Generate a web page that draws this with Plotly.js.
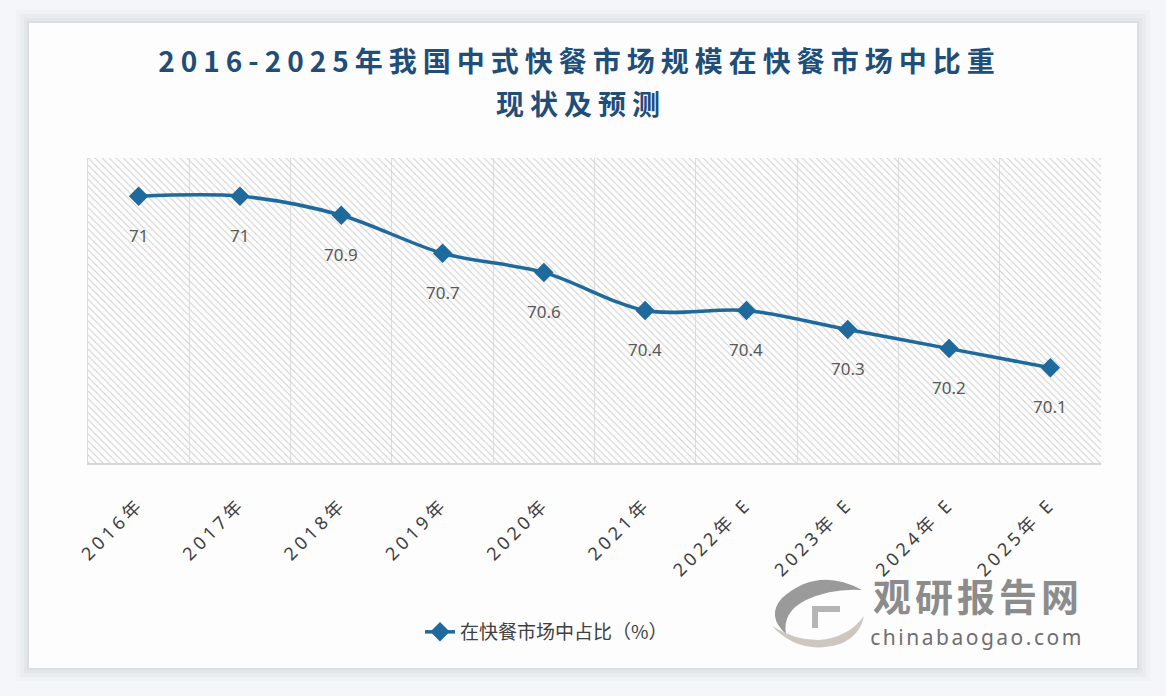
<!DOCTYPE html>
<html>
<head>
<meta charset="utf-8">
<script src="https://cdn.plot.ly/plotly-3.0.1.min.js"></script>
<style>
  html, body { margin: 0; padding: 0; background: #f5f6f9; }
  #chart { width: 1166px; height: 696px; }
  .gtitle, .titleline2 { letter-spacing: 6px; }
  .x2tick text { letter-spacing: 4px; }
  .wmcn { letter-spacing: 4px; }
  .wmen { letter-spacing: 2.5px; }
</style>
</head>
<body>
<div id="chart"></div>
<script>
// ---- data ----
const categories = ['2016年', '2017年', '2018年', '2019年', '2020年', '2021年', '2022年 E', '2023年 E', '2024年 E', '2025年 E'];
const shareValues = [71, 71, 70.9, 70.7, 70.6, 70.4, 70.4, 70.3, 70.2, 70.1];
const seriesName = '在快餐市场中占比（%）';
const titleLine1 = '2016-2025年我国中式快餐市场规模在快餐市场中比重';
const titleLine2 = '现状及预测';
const watermarkCn = '观研报告网';
const watermarkEn = 'chinabaogao.com';

// ---- geometry helpers (pixel -> paper) ----
const W = 1166, H = 696;
const M = { l: 88, r: 65, t: 158, b: 233 };
const PW = W - M.l - M.r, PH = H - M.t - M.b;
const X = px => (px - M.l) / PW;
const Y = py => (H - M.b - py) / PH;
function pathPx(cmds) {
  return cmds.map(c => {
    const op = c[0];
    const nums = c.slice(1);
    const out = [];
    for (let i = 0; i < nums.length; i += 2) out.push(X(nums[i]).toFixed(5) + ',' + Y(nums[i + 1]).toFixed(5));
    return op + ' ' + out.join(' ');
  }).join(' ') + ' Z';
}

const lineColor = '#1f6a9c';
const titleFont = { family: 'Noto Sans CJK SC', size: 28, weight: 'bold', color: '#1f4e79' };

const hatch = {
  type: 'bar', x: [0.5], y: [1], width: [1], xaxis: 'x', yaxis: 'y',
  marker: {
    color: 'rgba(0,0,0,0)',
    line: { width: 0 },
    pattern: { shape: '\\', fgcolor: '#cfcfcf', bgcolor: 'rgba(0,0,0,0)', size: 5, solidity: 0.2 }
  },
  showlegend: false, hoverinfo: 'skip'
};

const series = {
  type: 'scatter', mode: 'lines+markers',
  x: categories, y: shareValues, xaxis: 'x2', yaxis: 'y2',
  name: seriesName,
  line: { color: lineColor, width: 3.5, shape: 'spline', smoothing: 0.9 },
  marker: { symbol: 'diamond', size: 15, color: lineColor },
  hoverinfo: 'skip'
};

const labelAnnotations = categories.map((c, i) => ({
  x: c, y: shareValues[i], xref: 'x2', yref: 'y2', xanchor: 'center', yanchor: 'middle',
  text: String(shareValues[i]), showarrow: false, yshift: -39,
  font: { family: 'Noto Sans, Noto Sans CJK SC', size: 17, color: '#595959' }
}));

const otherAnnotations = [
  { xref: 'paper', yref: 'paper', x: X(581), y: Y(103), xanchor: 'center', yanchor: 'middle',
    text: titleLine2, showarrow: false, font: titleFont },
  { xref: 'paper', yref: 'paper', x: X(978), y: Y(594), xanchor: 'center', yanchor: 'middle',
    text: watermarkCn, showarrow: false,
    font: { family: 'Noto Sans CJK SC', size: 38, weight: 'bold', color: '#8c8c8c' } },
  { xref: 'paper', yref: 'paper', x: X(977), y: Y(637), xanchor: 'center', yanchor: 'middle',
    text: watermarkEn, showarrow: false,
    font: { family: 'Noto Sans', size: 21, color: '#6f6f6f' } }
];

const shapes = [];
// card shadow
[[13, 0.035], [9, 0.045], [5, 0.06], [2, 0.08]].forEach(([e, a]) => {
  shapes.push({ type: 'rect', xref: 'paper', yref: 'paper', layer: 'below',
    x0: X(29 - e), x1: X(1137 + e), y0: Y(668 + e), y1: Y(23 - e),
    fillcolor: `rgba(120,128,145,${a})`, line: { width: 0 } });
});
// card
shapes.push({ type: 'rect', xref: 'paper', yref: 'paper', layer: 'below',
  x0: X(29), x1: X(1137), y0: Y(668), y1: Y(23),
  fillcolor: '#fdfdfe', line: { width: 0 } });
// watermark logo swooshes
shapes.push({ type: 'path', xref: 'paper', yref: 'paper', layer: 'above',
  path: pathPx([['M', 862, 590], ['Q', 818, 566, 782, 598], ['Q', 766, 616, 786, 634], ['Q', 782, 612, 806, 600], ['Q', 832, 588, 862, 590]]),
  fillcolor: '#9a9a9a', line: { width: 0 } });
shapes.push({ type: 'path', xref: 'paper', yref: 'paper', layer: 'above',
  path: pathPx([['M', 772, 626], ['Q', 800, 656, 840, 644], ['Q', 860, 636, 864, 616], ['Q', 848, 638, 818, 640], ['Q', 794, 640, 772, 626]]),
  fillcolor: '#cdc7c0', line: { width: 0 } });
shapes.push({ type: 'path', xref: 'paper', yref: 'paper', layer: 'above',
  path: pathPx([['M', 812, 606], ['L', 840, 606], ['L', 840, 612], ['L', 818, 612], ['L', 818, 628], ['L', 812, 628]]),
  fillcolor: '#b5b5b5', line: { width: 0 } });

const layout = {
  width: W, height: H,
  margin: M,
  paper_bgcolor: '#f5f6f9',
  plot_bgcolor: '#ffffff',
  showlegend: true,
  hovermode: false,
  font: { family: 'Noto Sans, Noto Sans CJK SC', color: '#404040' },
  title: {
    text: titleLine1,
    xref: 'container', x: 0.497, xanchor: 'center',
    yref: 'container', y: 1 - 62 / H, yanchor: 'middle',
    font: titleFont
  },
  xaxis: { range: [0, 1], visible: false, fixedrange: true },
  yaxis: { range: [0, 1], visible: false, fixedrange: true },
  xaxis2: {
    overlaying: 'x', anchor: 'y2', side: 'bottom', type: 'category',
    range: [-0.5, categories.length - 0.5],
    tickson: 'boundaries', showgrid: true, gridcolor: '#dedede', gridwidth: 1,
    showline: true, linecolor: '#d6d6d6', linewidth: 1.5,
    ticks: '', tickangle: -45, ticklabelstandoff: 22,
    tickfont: { family: 'Noto Sans, Noto Sans CJK SC', size: 18, color: '#404040' }
  },
  yaxis2: {
    overlaying: 'y', anchor: 'x2', side: 'left',
    range: [69.6, 71.2], showgrid: false, zeroline: false,
    showticklabels: false, ticks: '',
    showline: true, linecolor: '#dcdcdc', linewidth: 1.5
  },
  legend: {
    orientation: 'h', xref: 'paper', yref: 'paper',
    x: X(420), xanchor: 'left', y: Y(632), yanchor: 'middle',
    bgcolor: 'rgba(0,0,0,0)',
    font: { family: 'Noto Sans CJK SC', size: 19, color: '#404040' }
  },
  annotations: labelAnnotations.concat(otherAnnotations),
  shapes: shapes
};

Plotly.newPlot('chart', [hatch, series], layout, { displayModeBar: false, staticPlot: true }).then(() => {
  const cls = { [titleLine2]: 'titleline2', [watermarkCn]: 'wmcn', [watermarkEn]: 'wmen' };
  document.querySelectorAll('.annotation-text').forEach(a => {
    const c = cls[a.textContent];
    if (c) a.classList.add(c);
  });
});
</script>
</body>
</html>
